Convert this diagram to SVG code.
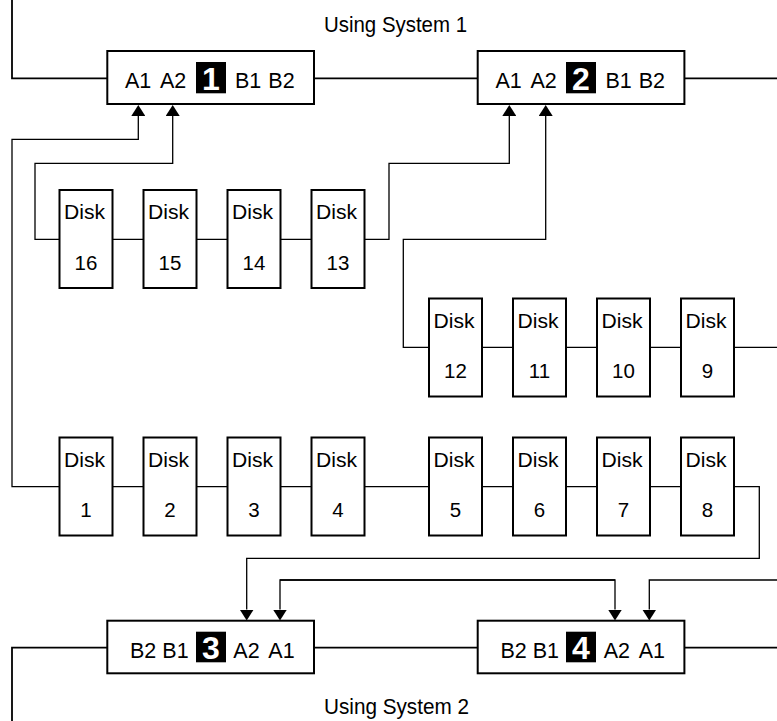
<svg xmlns="http://www.w3.org/2000/svg" width="777" height="721" viewBox="0 0 777 721">
<style>
.box{fill:#fff;stroke:#000;stroke-width:2}
.disk{fill:#fff;stroke:#000;stroke-width:2}
.wire{fill:none;stroke:#000;stroke-width:1.3}
.bus{fill:none;stroke:#000;stroke-width:1.8}
.t{font-family:"Liberation Sans",Arial,sans-serif;font-size:21.5px;fill:#000}
.dt{font-family:"Liberation Sans",Arial,sans-serif;font-size:20.5px;fill:#000}
.num{font-family:"Liberation Sans",Arial,sans-serif;font-size:32px;font-weight:bold;fill:#fff;text-anchor:middle}
.c{text-anchor:middle}
</style>
<defs>
<marker id="ah" viewBox="0 0 11 14" refX="0" refY="7" markerWidth="11" markerHeight="14" markerUnits="userSpaceOnUse" orient="auto">
<path d="M0,0 L11,7 L0,14 z" fill="#000"/>
</marker>
</defs>

<text class="t" x="324" y="31.5" textLength="143" lengthAdjust="spacingAndGlyphs">Using System 1</text>
<text class="t" x="324" y="713.5" textLength="145" lengthAdjust="spacingAndGlyphs">Using System 2</text>

<g id="connectors">
<path class="bus" d="M12,0 V78.3 H107.3"/>
<path class="bus" d="M314,78.3 H477.7"/>
<path class="bus" d="M684.3,78.3 H777"/>
<path class="wire" d="M59.5,486.7 H12 V139.3 H138.3 V116" marker-end="url(#ah)"/>
<path class="wire" d="M59.5,239.3 H35 V163.3 H172.7 V116" marker-end="url(#ah)"/>
<path class="wire" d="M112.5,239.3 H311.5"/>
<path class="wire" d="M364.5,239.3 H389 V163.3 H509.3 V116" marker-end="url(#ah)"/>
<path class="wire" d="M429,347.3 H403.3 V239.3 H545.7 V116" marker-end="url(#ah)"/>
<path class="wire" d="M482,347.3 H777"/>
<path class="wire" d="M112.5,486.7 H681"/>
<path class="wire" d="M734,486.7 H759.3 V558.3 H246.7 V609.5" marker-end="url(#ah)"/>
<path class="wire" d="M280,580 H615 V609.5" marker-end="url(#ah)"/>
<path class="wire" d="M615,580 H280 V609.5" marker-end="url(#ah)"/>
<path class="wire" d="M777,580 H649.3 V609.5" marker-end="url(#ah)"/>
<path class="bus" d="M107.3,647.7 H12 V721"/>
<path class="bus" d="M314,647.7 H477.7"/>
<path class="bus" d="M684.3,647.7 H777"/>
</g>

<g id="sys1">
<rect class="box" x="107.3" y="51" width="206.7" height="53"/>
<text class="t" x="125" y="88.3">A1</text>
<text class="t" x="160" y="88.3">A2</text>
<rect x="196" y="62" width="30" height="31.3" fill="#000"/>
<text class="num" x="211" y="89.5">1</text>
<text class="t" x="235" y="88.3">B1</text>
<text class="t" x="268.3" y="88.3">B2</text>
</g>
<g id="sys2">
<rect class="box" x="477.7" y="51" width="206.7" height="53"/>
<text class="t" x="495.4" y="88.3">A1</text>
<text class="t" x="530.4" y="88.3">A2</text>
<rect x="566" y="62" width="30" height="31.3" fill="#000"/>
<text class="num" x="581" y="89.5">2</text>
<text class="t" x="605.4" y="88.3">B1</text>
<text class="t" x="638.7" y="88.3">B2</text>
</g>
<g id="sys3">
<rect class="box" x="107.3" y="620.7" width="206.7" height="52.6"/>
<text class="t" x="130" y="658">B2</text>
<text class="t" x="162.3" y="658">B1</text>
<rect x="196" y="631.7" width="30" height="30.6" fill="#000"/>
<text class="num" x="211" y="659">3</text>
<text class="t" x="233.3" y="658">A2</text>
<text class="t" x="268.3" y="658">A1</text>
</g>
<g id="sys4">
<rect class="box" x="477.7" y="620.7" width="206.7" height="52.6"/>
<text class="t" x="500.4" y="658">B2</text>
<text class="t" x="532.7" y="658">B1</text>
<rect x="566" y="631.7" width="30" height="30.6" fill="#000"/>
<text class="num" x="581" y="659">4</text>
<text class="t" x="603.7" y="658">A2</text>
<text class="t" x="638.7" y="658">A1</text>
</g>

<g id="disk16"><rect class="disk" x="59.5" y="190" width="53" height="98"/><text class="dt" x="64" y="219" textLength="41" lengthAdjust="spacingAndGlyphs">Disk</text><text class="dt c" x="86" y="269.5">16</text></g>
<g id="disk15"><rect class="disk" x="143.5" y="190" width="53" height="98"/><text class="dt" x="148" y="219" textLength="41" lengthAdjust="spacingAndGlyphs">Disk</text><text class="dt c" x="170" y="269.5">15</text></g>
<g id="disk14"><rect class="disk" x="227.5" y="190" width="53" height="98"/><text class="dt" x="232" y="219" textLength="41" lengthAdjust="spacingAndGlyphs">Disk</text><text class="dt c" x="254" y="269.5">14</text></g>
<g id="disk13"><rect class="disk" x="311.5" y="190" width="53" height="98"/><text class="dt" x="316" y="219" textLength="41" lengthAdjust="spacingAndGlyphs">Disk</text><text class="dt c" x="338" y="269.5">13</text></g>

<g id="disk12"><rect class="disk" x="429" y="298.5" width="53" height="98"/><text class="dt" x="433.5" y="327.5" textLength="41" lengthAdjust="spacingAndGlyphs">Disk</text><text class="dt c" x="455.5" y="378">12</text></g>
<g id="disk11"><rect class="disk" x="513" y="298.5" width="53" height="98"/><text class="dt" x="517.5" y="327.5" textLength="41" lengthAdjust="spacingAndGlyphs">Disk</text><text class="dt c" x="539.5" y="378">11</text></g>
<g id="disk10"><rect class="disk" x="597" y="298.5" width="53" height="98"/><text class="dt" x="601.5" y="327.5" textLength="41" lengthAdjust="spacingAndGlyphs">Disk</text><text class="dt c" x="623.5" y="378">10</text></g>
<g id="disk9"><rect class="disk" x="681" y="298.5" width="53" height="98"/><text class="dt" x="685.5" y="327.5" textLength="41" lengthAdjust="spacingAndGlyphs">Disk</text><text class="dt c" x="707.5" y="378">9</text></g>

<g id="disk1"><rect class="disk" x="59.5" y="437.5" width="53" height="98"/><text class="dt" x="64" y="466.5" textLength="41" lengthAdjust="spacingAndGlyphs">Disk</text><text class="dt c" x="86" y="517">1</text></g>
<g id="disk2"><rect class="disk" x="143.5" y="437.5" width="53" height="98"/><text class="dt" x="148" y="466.5" textLength="41" lengthAdjust="spacingAndGlyphs">Disk</text><text class="dt c" x="170" y="517">2</text></g>
<g id="disk3"><rect class="disk" x="227.5" y="437.5" width="53" height="98"/><text class="dt" x="232" y="466.5" textLength="41" lengthAdjust="spacingAndGlyphs">Disk</text><text class="dt c" x="254" y="517">3</text></g>
<g id="disk4"><rect class="disk" x="311.5" y="437.5" width="53" height="98"/><text class="dt" x="316" y="466.5" textLength="41" lengthAdjust="spacingAndGlyphs">Disk</text><text class="dt c" x="338" y="517">4</text></g>
<g id="disk5"><rect class="disk" x="429" y="437.5" width="53" height="98"/><text class="dt" x="433.5" y="466.5" textLength="41" lengthAdjust="spacingAndGlyphs">Disk</text><text class="dt c" x="455.5" y="517">5</text></g>
<g id="disk6"><rect class="disk" x="513" y="437.5" width="53" height="98"/><text class="dt" x="517.5" y="466.5" textLength="41" lengthAdjust="spacingAndGlyphs">Disk</text><text class="dt c" x="539.5" y="517">6</text></g>
<g id="disk7"><rect class="disk" x="597" y="437.5" width="53" height="98"/><text class="dt" x="601.5" y="466.5" textLength="41" lengthAdjust="spacingAndGlyphs">Disk</text><text class="dt c" x="623.5" y="517">7</text></g>
<g id="disk8"><rect class="disk" x="681" y="437.5" width="53" height="98"/><text class="dt" x="685.5" y="466.5" textLength="41" lengthAdjust="spacingAndGlyphs">Disk</text><text class="dt c" x="707.5" y="517">8</text></g>
</svg>
